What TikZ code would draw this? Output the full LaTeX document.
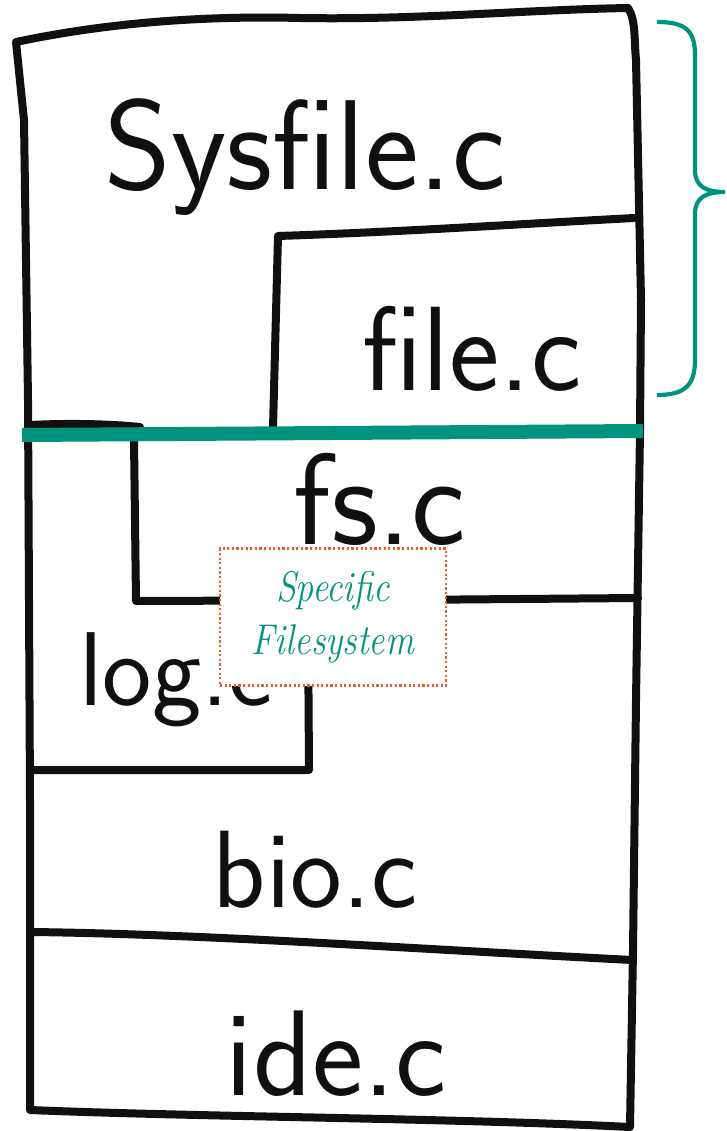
\documentclass[tikz,border=0pt]{standalone}
\usepackage{fontspec}
\usepackage{graphicx}
\definecolor{teal}{RGB}{0,148,126}
\definecolor{inkblack}{RGB}{18,16,14}
\definecolor{dotorange}{RGB}{238,92,36}
\tikzset{
  ink/.style={draw=inkblack, line width=8pt, line cap=round, line join=round},
  scrawl/.style={text=inkblack, inner sep=0pt, anchor=base, font=\sffamily\fontsize{#1}{#1}\selectfont},
  bracestroke/.style={draw=teal, line width=4.2pt, line cap=butt},
  layerbar/.style={draw=teal, line width=14pt, line cap=butt},
  tagbox/.style={draw=dotorange, fill=white, line width=2.4pt, dash pattern=on 2.2pt off 2.4pt,
    minimum width=226pt, minimum height=137pt, inner sep=0pt, align=center,
    text=teal, font=\itshape\fontsize{43}{53}\selectfont}
}
\begin{document}
\begin{tikzpicture}[x=1pt,y=-1pt]
\useasboundingbox (0,0) rectangle (726,1131);
\fill[white] (0,0) rectangle (726,1131);

% outer frame of the stack
\draw[ink] (16,42) .. controls (120,20) and (220,16) .. (300,18)
  .. controls (420,20) and (520,10) .. (628,8)
  .. controls (636,20) and (634,40) .. (636,60)
  -- (641,300) -- (640,430) -- (636,700) -- (633,950) -- (630,1127)
  .. controls (450,1118) and (200,1117) .. (30,1110)
  -- (30,800) -- (28,400) -- (24,120) -- cycle;

% file.c box
\draw[ink] (273,428) -- (278,236) .. controls (400,232) and (520,224) .. (634,218);

% stub of the upper layer's bottom edge
\draw[ink] (30,425) .. controls (70,423) and (110,424) .. (140,427);

% fs.c box
\draw[ink] (134,440) -- (136,601) -- (400,600) -- (638,598);

% log.c box
\draw[ink] (308,620) -- (309,770) -- (32,770);

% bio.c / ide.c divider
\draw[ink] (32,932) .. controls (200,934) and (400,948) .. (632,960);

% boundary between the generic and the specific layers
\draw[layerbar] (22,435) -- (643,431);

% brace over the upper layers
\draw[bracestroke] (657,22) .. controls (685,22) and (695,30) .. (695,55)
  -- (695,170) .. controls (695,186) and (705,192) .. (725,192)
  .. controls (705,192) and (695,198) .. (695,214)
  -- (695,360) .. controls (695,385) and (685,395) .. (657,395);

% file names
\node[scrawl=128] (sysfile) at (305,190) {Sysfile.c};
\node[scrawl=120] (file) at (472,390) {file.c};
\node[scrawl=130] (fs) at (380,544) {fs.c};
\node[scrawl=105] (log) at (176,705) {log.c};
\node[scrawl=110] (bio) at (315,907) {bio.c};
\node[scrawl=122] (ide) at (336,1095) {ide.c};

% label
\node[tagbox] (fslabel) at (333,617) {\scalebox{0.84}[1]{Specific}\\\scalebox{0.84}[1]{Filesystem}};
\end{tikzpicture}
\end{document}
